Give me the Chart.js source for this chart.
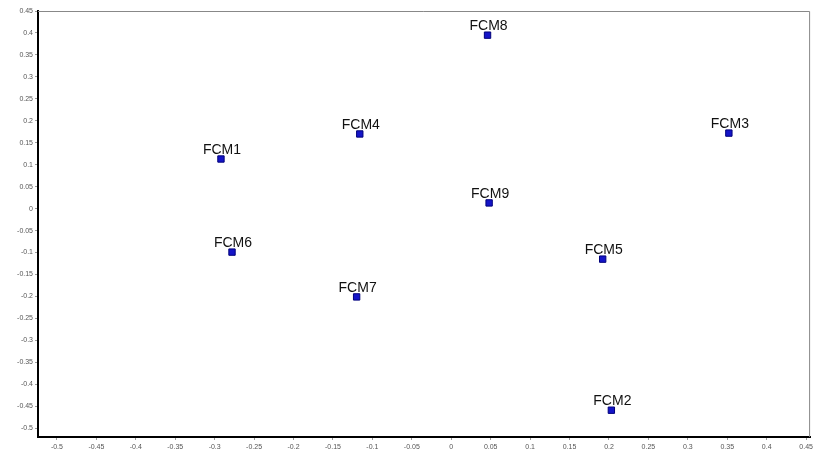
<!DOCTYPE html>
<html>
<head>
<meta charset="utf-8">
<script src="https://cdn.jsdelivr.net/npm/chart.js@4"></script>
<style>
    body { margin: 0; background: #fff; }
    #scatterChart { display: block; }
</style>
</head>
<body>
<canvas id="scatterChart" width="816" height="456"></canvas>
<script>
// Data
const names = ['FCM1', 'FCM2', 'FCM3', 'FCM4', 'FCM5', 'FCM6', 'FCM7', 'FCM8', 'FCM9'];
const xValues = [-0.292, 0.203, 0.352, -0.116, 0.192, -0.278, -0.120, 0.046, 0.048];
const yValues = [0.113, -0.459, 0.172, 0.170, -0.115, -0.099, -0.201, 0.395, 0.013];

const points = names.map((n, i) => ({x: xValues[i], y: yValues[i]}));

// label each point above the marker
const pointLabels = {
    id: 'pointLabels',
    afterDatasetsDraw(chart) {
        const ctx = chart.ctx;
        const meta = chart.getDatasetMeta(0);
        ctx.save();
        ctx.font = '14px "Liberation Sans", Arial, sans-serif';
        ctx.fillStyle = '#111';
        ctx.textAlign = 'center';
        ctx.textBaseline = 'alphabetic';
        meta.data.forEach((pt, i) => {
            ctx.fillText(names[i], pt.x + 1, pt.y - 5);
        });
        ctx.restore();
    }
};

// gray frame on top and right
const frame = {
    id: 'frame',
    beforeDatasetsDraw(chart) {
        const a = chart.chartArea;
        const ctx = chart.ctx;
        ctx.save();
        ctx.strokeStyle = '#888';
        ctx.lineWidth = 1;
        ctx.beginPath();
        ctx.moveTo(a.left, a.top + 0.5);
        ctx.lineTo(a.right - 0.5, a.top + 0.5);
        ctx.lineTo(a.right - 0.5, a.bottom);
        ctx.stroke();
        ctx.restore();
    }
};

const fmt = v => Number(v.toFixed(2)).toString();

const ctx = document.getElementById('scatterChart').getContext('2d');
new Chart(ctx, {
    type: 'scatter',
    data: {
        datasets: [{
            label: 'FCM',
            data: points,
            pointStyle: 'rect',
            pointRadius: 4.5,
            backgroundColor: '#1414c8',
            borderColor: '#00007a',
            borderWidth: 1
        }]
    },
    options: {
        responsive: false,
        animation: false,
        layout: {padding: {top: 11, right: 5, left: 0, bottom: 0}},
        plugins: {
            legend: {display: false},
            tooltip: {enabled: false}
        },
        scales: {
            x: {
                type: 'linear',
                min: -0.524,
                max: 0.455,
                afterFit: s => { s.height = 19; },
                border: {display: true, color: '#000', width: 2},
                grid: {drawOnChartArea: false, drawTicks: true, tickLength: 3, color: '#999'},
                ticks: {
                    stepSize: 0.05,
                    includeBounds: false,
                    autoSkip: false,
                    maxRotation: 0,
                    padding: 3,
                    color: '#555',
                    font: {size: 7, family: '"Liberation Sans", Arial, sans-serif'},
                    callback: fmt
                }
            },
            y: {
                type: 'linear',
                min: -0.52,
                max: 0.45,
                afterFit: s => { s.width = 38; },
                border: {display: true, color: '#000', width: 2},
                grid: {drawOnChartArea: false, drawTicks: true, tickLength: 3, color: '#999'},
                ticks: {
                    stepSize: 0.05,
                    includeBounds: false,
                    autoSkip: false,
                    padding: 2,
                    color: '#555',
                    font: {size: 7, family: '"Liberation Sans", Arial, sans-serif'},
                    callback: fmt
                }
            }
        }
    },
    plugins: [frame, pointLabels]
});
</script>
</body>
</html>
